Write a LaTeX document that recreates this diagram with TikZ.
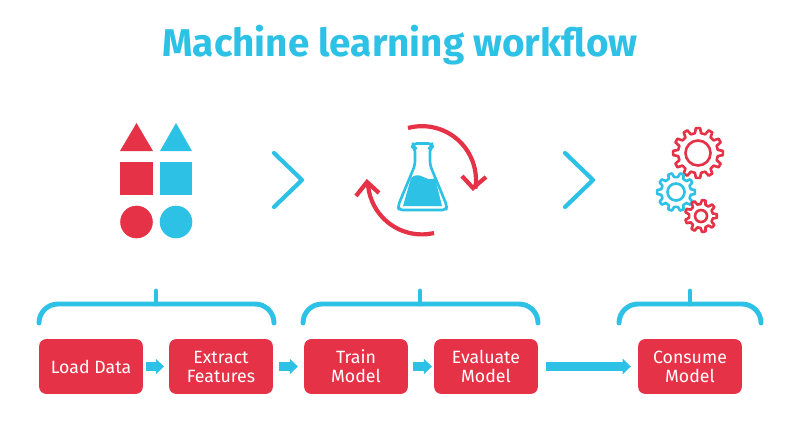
\documentclass[tikz,border=0pt]{standalone}
\usepackage{fontspec}
\setmainfont{Fira Sans}
\usetikzlibrary{arrows.meta}
\definecolor{mlred}{HTML}{E63247}
\definecolor{mlblue}{HTML}{2DC1E6}
\tikzset{
	box/.style={draw=none,fill=mlred,rounded corners=4pt,minimum width=59pt,minimum height=31.2pt,inner sep=0pt,text=white,align=center,font=\fontsize{10.1}{10.8}\selectfont},
	flow/.style={draw=mlblue,line width=5pt,-{Triangle[length=4.6pt,width=8.6pt]}},
	bracket/.style={draw=mlblue,line width=2.8pt,line cap=round,rounded corners=10.8pt},
	stem/.style={draw=mlblue,line width=2.8pt,line cap=round},
	chevron/.style={draw=mlblue,line width=2.4pt,line cap=round,line join=round},
	cycle arrow/.style={draw=mlred,line width=2.4pt,line join=miter},
	gear/.style={line width=1.5pt,fill=none,line join=round}
}
% one cog: centre, colour, teeth, root radius, tip radius, ring radius
\newcommand{\cog}[6]{
\begin{scope}[shift={#1}]
\pgfmathsetmacro{\pitch}{360/#3}
\draw[gear,draw=#2] (-0.30*\pitch:#4)
	\foreach \t in {1,...,#3} {
		-- ({(\t-1-0.16)*\pitch}:#5) -- ({(\t-1+0.16)*\pitch}:#5)
		-- ({(\t-1+0.30)*\pitch}:#4) -- ({(\t-0.30)*\pitch}:#4)
	} -- cycle;
\draw[gear,draw=#2] (0,0) circle[radius=#6];
\end{scope}
}
\begin{document}
\begin{tikzpicture}[x=0.02cm,y=-0.02cm]
\useasboundingbox (0,0) rectangle (800,420);

\node[text=mlblue,font=\fontsize{22}{26}\selectfont\bfseries] (title) at (400,45) {Machine learning workflow};

% shapes
\fill[mlred] (136.5,123) -- (153,151) -- (120,151) -- cycle;
\fill[mlblue] (176,123) -- (192,151) -- (160,151) -- cycle;
\fill[mlred] (120,162) rectangle (153,195);
\fill[mlblue] (159.5,162) rectangle (192,195);
\fill[mlred] (136.5,222) circle[radius=16.3];
\fill[mlblue] (176,222) circle[radius=16.3];

\draw[chevron] (274,153) -- (302,180) -- (274,207);
\draw[chevron] (565,153) -- (593,180) -- (565,207);

% flask
\fill[mlblue] (403,206) -- (411,178) .. controls (418,172) and (422,177) .. (428,179) .. controls (431,180) and (433,179) .. (435,178) -- (442,206) -- cycle;
\draw[mlblue,line width=1.5pt,line join=round,rounded corners=2pt] (413,143.5) -- (432,143.5) -- (432,147) -- (430,148) -- (430,165) -- (447,206) -- (446,210) -- (399,210) -- (398,206) -- (415,165) -- (415,148) -- (413,147) -- cycle;

\draw[cycle arrow] (408,128) arc[start angle=255,end angle=369,radius=54];
\draw[cycle arrow] (462,176) -- (473,188) -- (486,177);
\draw[cycle arrow] (434,233) arc[start angle=77,end angle=178,radius=54];
\draw[cycle arrow] (356,196) -- (367,182) -- (379,193);

% cogs
\cog{(698,153)}{mlred}{12}{20}{25}{12.5}
\cog{(676,192)}{mlblue}{10}{15}{19}{8.5}
\cog{(701,216)}{mlred}{9}{12}{16}{6}

% brackets
\draw[bracket] (39,323) -- (39,304) -- (274,304) -- (274,323);
\draw[stem] (156,304) -- (156,291);
\draw[bracket] (303,323) -- (303,304) -- (538,304) -- (538,323);
\draw[stem] (420,304) -- (420,291);
\draw[bracket] (619,323) -- (619,304) -- (761,304) -- (761,323);
\draw[stem] (690,304) -- (690,291);

% steps
\node[box] (load) at (91,366.5) {Load Data};
\node[box] (extract) at (221,366.5) {Extract\\Features};
\node[box] (train) at (356,366.5) {Train\\Model};
\node[box] (evaluate) at (486,366.5) {Evaluate\\Model};
\node[box] (consume) at (690,366.5) {Consume\\Model};

\draw[flow,shorten <=1.7pt,shorten >=2.8pt] (load) -- (extract);
\draw[flow,shorten <=3.4pt,shorten >=3.4pt] (extract) -- (train);
\draw[flow,shorten <=2.8pt,shorten >=1.1pt] (train) -- (evaluate);
\draw[flow,shorten <=4.5pt,shorten >=4pt] (evaluate) -- (consume);
\end{tikzpicture}
\end{document}
